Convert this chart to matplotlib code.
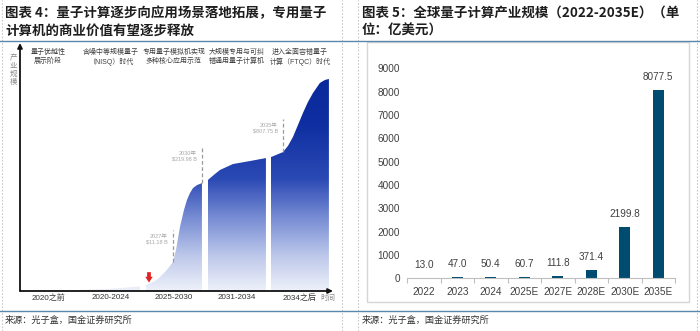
import matplotlib
matplotlib.use("Agg")
import matplotlib.pyplot as plt
import numpy as np
from matplotlib.colors import LinearSegmentedColormap
from matplotlib.lines import Line2D
from matplotlib.patches import Polygon, Rectangle

plt.rcParams['font.family'] = ['Liberation Sans', 'Noto Sans CJK SC']

# left panel: stage curve (time in category units, scale index 0-100)
stages = ['2020之前', '2020-2024', '2025-2030', '2031-2034', '2034之后']
stage_notes = ['量子优越性\n展示阶段', '含噪中等规模量子\n（NISQ）时代', '专用量子模拟机实现\n多种核心应用示范',
               '大规模专用与可纠\n错通用量子计算机', '进入全面容错量子\n计算（FTQC）时代']
seg_x = [
    [0.976, 1.484, 1.960],
    [2.056, 2.198, 2.278, 2.373, 2.437, 2.484, 2.532, 2.595, 2.659, 2.706, 2.754, 2.802, 2.865, 2.944],
    [3.040, 3.151, 3.230, 3.437, 3.706, 3.960],
    [4.040, 4.230, 4.310, 4.389, 4.468, 4.548, 4.627, 4.706, 4.817, 4.897, 4.960],
]
seg_y = [
    [0.4, 0.9, 1.8],
    [2.4, 4.0, 5.6, 8.1, 10.1, 11.7, 16.5, 25.8, 32.7, 36.7, 39.5, 41.5, 42.7, 43.5],
    [44.8, 47.2, 48.8, 51.2, 52.4, 53.6],
    [54.0, 56.0, 58.5, 62.1, 66.9, 71.8, 76.2, 79.8, 83.9, 85.1, 85.5],
]
marks_x = [2.484, 2.944, 4.230]
marks_y = [11.7, 43.5, 56.0]
marks_top = [24.6, 58.1, 69.4]
marks_text = ['2027年\n$11.18 B', '2030年\n$219.98 B', '2035年\n$807.75 B']

# right panel: market size
years = ['2022', '2023', '2024', '2025E', '2027E', '2028E', '2030E', '2035E']
market = [13.0, 47.0, 50.4, 60.7, 111.8, 371.4, 2199.8, 8077.5]

W, H = 700, 331
fig = plt.figure(figsize=(W / 100, H / 100), dpi=100)


def fx(px):
    return px / W


def fy(py):
    return 1 - py / H


def box(x0, y0, x1, y1):
    return [fx(x0), fy(y1), fx(x1) - fx(x0), fy(y0) - fy(y1)]


# page furniture
for xp in [2, 342, 358, 697]:
    fig.add_artist(Line2D([fx(xp)] * 2, [0, 1], transform=fig.transFigure,
                          color='#c8c8c8', lw=0.8, ls=(0, (1.5, 1.5))))
for yp in [40.5, 311]:
    fig.add_artist(Line2D([0, 1], [fy(yp)] * 2, transform=fig.transFigure,
                          color='#5a88ad', lw=1.0))
fig.add_artist(Rectangle((fx(367), fy(302)), fx(689) - fx(367), fy(42) - fy(302),
                         transform=fig.transFigure, fill=False, edgecolor='#d6d6d6', lw=1.0))

title_kw = dict(family='Noto Sans CJK SC', weight='bold', fontsize=9.7, color='#1e1e1e',
                va='center', ha='left', linespacing=1.35)
fig.text(fx(5), fy(22), '图表 4：量子计算逐步向应用场景落地拓展，专用量子\n计算机的商业价值有望逐步释放', **title_kw)
fig.text(fx(362), fy(22), '图表 5：全球量子计算产业规模（2022-2035E）（单\n位：亿美元）', **title_kw)
src_kw = dict(family='Noto Sans CJK SC', fontsize=6.6, color='#333333', va='center', ha='left')
fig.text(fx(5), fy(320), '来源：光子盒，国金证券研究所', **src_kw)
fig.text(fx(362), fy(320), '来源：光子盒，国金证券研究所', **src_kw)

# ---- left: stage illustration ----
ax1 = fig.add_axes(box(20, 43, 333, 291))
for s in ax1.spines.values():
    s.set_visible(False)
ax1.set_yticks([])
ax1.set_xticks(np.arange(len(stages)) + 0.5)
ax1.set_xticklabels(stages, fontsize=5.8, color='#333333')
ax1.tick_params(axis='x', length=0, pad=2.5)

cmap = LinearSegmentedColormap.from_list(
    'depth', [(0.0, '#eef1fa'), (0.15, '#bfcaeb'), (0.32, '#7a8fd5'),
              (0.5, '#2c4ab4'), (0.75, '#0e2ea1'), (1.0, '#0a2898')])
grad = np.linspace(0, 1, 256).reshape(-1, 1)
for xs, ys in zip(seg_x, seg_y):
    verts = [(xs[0], 0)] + list(zip(xs, ys)) + [(xs[-1], 0)]
    poly = Polygon(verts, closed=True, facecolor='none', edgecolor='none')
    ax1.add_patch(poly)
    im = ax1.imshow(grad, cmap=cmap, origin='lower', aspect='auto',
                    extent=[xs[0], xs[-1], 0, 90], zorder=1)
    im.set_clip_path(poly)
ax1.set_xlim(0.055, 5.025)
ax1.set_ylim(0, 100)

for x, y0, y1, t in zip(marks_x, marks_y, marks_top, marks_text):
    ax1.plot([x, x], [y0, y1], color='#9a9a9a', lw=0.9, ls=(0, (3, 2)), zorder=2)
    ax1.text(x - 0.08, y1 - 1.5, t, fontsize=4.0, color='#a8a8a8', ha='right', va='top',
             linespacing=1.3)

# red marker pointing at the start of the 2025-2030 stage
ax1.annotate('', xy=(2.103, 3.4), xytext=(2.103, 7.6),
             arrowprops=dict(arrowstyle='simple,head_width=0.9,head_length=0.7,tail_width=0.45',
                             color='#e02424', lw=0, mutation_scale=6, shrinkA=0, shrinkB=0))

for i, note in enumerate(stage_notes):
    ax1.text(i + 0.5, 94.3, note, fontsize=5.0, color='#404040', ha='center', va='center',
             linespacing=1.3)

ax1.annotate('', xy=(0, 1.0), xytext=(0, 0), xycoords='axes fraction',
             arrowprops=dict(arrowstyle='-|>', color='#111111', lw=1.3, mutation_scale=7,
                             shrinkA=0, shrinkB=0))
ax1.annotate('', xy=(1.0, 0), xytext=(0, 0), xycoords='axes fraction',
             arrowprops=dict(arrowstyle='-|>', color='#111111', lw=1.3, mutation_scale=7,
                             shrinkA=0, shrinkB=0))
ax1.text(-0.022, 0.89, '\n'.join('产业规模'), transform=ax1.transAxes, fontsize=5.4,
         color='#8a8a8a', ha='center', va='center', linespacing=1.15)
ax1.text(0.985, -0.028, '时间', transform=ax1.transAxes, fontsize=5.4, color='#8a8a8a',
         ha='center', va='center')

# ---- right: bar chart ----
ax2 = fig.add_axes(box(407, 68.3, 675, 278.3))
xpos = np.arange(len(years))
bars = ax2.bar(xpos, market, width=0.34, color='#004c70', zorder=2)
ax2.set_xlim(-0.5, len(years) - 0.5)
ax2.set_ylim(0, 9000)
ax2.set_yticks(np.arange(0, 9001, 1000))
ax2.set_xticks(xpos)
ax2.set_xticklabels(years)
ax2.set_xticks(np.arange(-0.5, len(years)), minor=True)
ax2.tick_params(axis='both', which='major', length=0, labelsize=7.2, labelcolor='#404040')
ax2.tick_params(axis='y', pad=5)
ax2.tick_params(axis='x', which='major', pad=6)
ax2.tick_params(axis='x', which='minor', length=3.5, color='#bfbfbf', width=0.8)
for k in ['left', 'right', 'top']:
    ax2.spines[k].set_visible(False)
ax2.spines['bottom'].set_color('#bfbfbf')
ax2.spines['bottom'].set_linewidth(0.8)
for b, v in zip(bars, market):
    ax2.annotate(f'{v:.1f}', (b.get_x() + b.get_width() / 2, v), xytext=(0, 8),
                 textcoords='offset pixels', ha='center', va='bottom', fontsize=7.2,
                 color='#404040')

fig.savefig('out.png', dpi=100)
